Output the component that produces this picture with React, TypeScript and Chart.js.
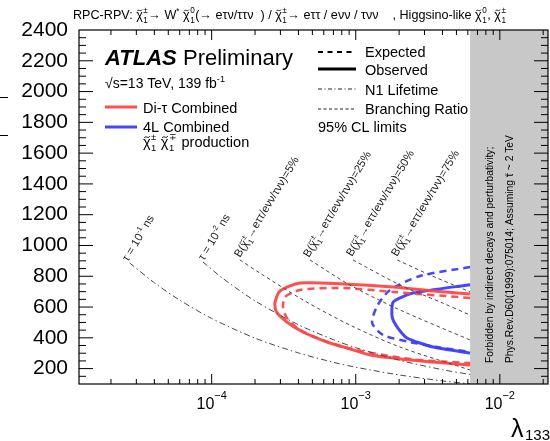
import React, { useEffect, useRef } from "react";
import { Chart, registerables } from "chart.js";

Chart.register(...registerables);

const FAM = '"Liberation Sans", Arial, Helvetica, sans-serif';

// ---- axes ----
const X_MIN = 1.2e-5;
const X_MAX = 2.16e-2;
const Y_MIN = 100;
const Y_MAX = 2400;
const FORBIDDEN_FROM = 6.22e-3;

const xTickValues = [1e-4, 1e-3, 1e-2];
const xTickExponents = ["−4", "−3", "−2"];
const yTickValues = [200, 400, 600, 800, 1000, 1200, 1400, 1600, 1800, 2000, 2200, 2400];
const yTickLabels = ["200", "400", "600", "800", "1000", "1200", "1400", "1600", "1800", "2000", "2200", "2400"];

// ---- N1 lifetime contours ----
const tau1Lambda = [2.7e-5, 4e-5, 6e-5, 1e-4, 2e-4, 4e-4, 7e-4, 1e-3, 2e-3, 4e-3, 6.22e-3];
const tau1Mass = [886, 758, 645, 526, 398, 302, 241, 209, 159, 120, 101];
const tau2Lambda = [8.7e-5, 1.2e-4, 2e-4, 4e-4, 7e-4, 1e-3, 2e-3, 4e-3, 6.22e-3];
const tau2Mass = [893, 785, 640, 485, 388, 336, 255, 193, 162];

// ---- branching ratio contours ----
const br5Lambda = [1.57e-4, 2.16e-4, 4.31e-4, 9.12e-4, 2.03e-3, 6.22e-3];
const br5Mass = [906, 821, 646, 483, 340, 191];
const br25Lambda = [4.81e-4, 9.12e-4, 2.03e-3, 6.22e-3];
const br25Mass = [906, 743, 581, 386];
const br50Lambda = [9.57e-4, 2.03e-3, 3.85e-3, 6.22e-3];
const br50Mass = [906, 743, 633, 548];
const br75Lambda = [1.94e-3, 3.28e-3, 6.22e-3];
const br75Mass = [906, 808, 698];

// ---- Di-tau combined ----
const redObsLambda = [6.22e-3, 3.44e-3, 1.82e-3, 8.16e-4, 4.1e-4, 2.98e-4, 2.75e-4, 2.82e-4, 3.33e-4, 4.31e-4, 6.32e-4, 8.7e-4, 1.26e-3, 2.38e-3, 6.22e-3];
const redObsMass = [685, 704, 730, 750, 756, 704, 626, 568, 503, 438, 373, 334, 288, 256, 223];
const redExpLambda = [6.22e-3, 1.82e-3, 8.16e-4, 4.1e-4, 3.23e-4, 3.13e-4, 3.33e-4, 3.91e-4, 4.82e-4, 8.16e-4, 2.38e-3, 6.22e-3];
const redExpMass = [659, 698, 724, 711, 665, 594, 529, 464, 418, 340, 262, 236];

// ---- 4L combined ----
const blueObsLambda = [6.22e-3, 2.5e-3, 1.82e-3, 1.79e-3, 1.94e-3, 2.27e-3, 3.44e-3, 6.22e-3];
const blueObsMass = [745, 691, 633, 535, 470, 399, 340, 301];
const blueExpLambda = [6.22e-3, 2.8e-3, 1.73e-3, 1.41e-3, 1.3e-3, 1.55e-3, 2.38e-3, 3.67e-3, 6.22e-3];
const blueExpMass = [860, 802, 711, 607, 496, 418, 373, 340, 308];

const RED = "rgba(255,70,70,0.95)";
const BLUE = "rgba(60,60,255,0.95)";
const GREY = "#4a4a4a";
const DASHDOT = [6, 3, 1.5, 3];
const BRDASH = [3.5, 3];

type Seg = { t: string; k: "n" | "sup" | "chi" | "til"; sup?: string; sub?: string };
const N = (t: string): Seg => ({ t, k: "n" });
const SUP = (t: string): Seg => ({ t, k: "sup" });
const CHI = (sup: string, sub: string): Seg => ({ t: "χ", k: "chi", sup, sub });
const TIL = (t: string): Seg => ({ t, k: "til" });

function drawTilde(ctx: CanvasRenderingContext2D, cx: number, ty: number, w: number, lw: number) {
  const h = w * 0.16;
  ctx.save();
  ctx.lineWidth = lw;
  ctx.setLineDash([]);
  ctx.beginPath();
  ctx.moveTo(cx - w / 2, ty + h);
  ctx.bezierCurveTo(cx - w / 6, ty - 2.2 * h, cx + w / 6, ty + 2.2 * h, cx + w / 2, ty - h);
  ctx.stroke();
  ctx.restore();
}

function rich(ctx: CanvasRenderingContext2D, x0: number, y: number, segs: Seg[], size: number, color = "#000") {
  let x = x0;
  ctx.fillStyle = color;
  ctx.strokeStyle = color;
  ctx.textAlign = "left";
  ctx.textBaseline = "alphabetic";
  const small = size * 0.65;
  for (const s of segs) {
    if (s.k === "n") {
      ctx.font = `${size}px ${FAM}`;
      ctx.fillText(s.t, x, y);
      x += ctx.measureText(s.t).width;
    } else if (s.k === "sup") {
      ctx.font = `${small}px ${FAM}`;
      ctx.fillText(s.t, x, y - size * 0.42);
      x += ctx.measureText(s.t).width;
    } else {
      ctx.font = `${size}px ${FAM}`;
      const w = ctx.measureText(s.t).width;
      ctx.fillText(s.t, x, y);
      drawTilde(ctx, x + w * 0.52, y - size * 0.68, w * 0.75, Math.max(0.7, size / 15));
      let adv = w;
      if (s.sup || s.sub) {
        ctx.font = `${small}px ${FAM}`;
        let ww = 0;
        if (s.sup) {
          ctx.fillText(s.sup, x + w + 0.5, y - size * 0.45);
          ww = Math.max(ww, ctx.measureText(s.sup).width);
        }
        if (s.sub) {
          ctx.fillText(s.sub, x + w + 0.5, y + size * 0.3);
          ww = Math.max(ww, ctx.measureText(s.sub).width);
        }
        adv += ww + 1;
      }
      x += adv;
    }
  }
  return x - x0;
}

function rotRich(ctx: CanvasRenderingContext2D, x: number, y: number, deg: number, segs: Seg[], size: number, color = "#000") {
  ctx.save();
  ctx.translate(x, y);
  ctx.rotate((deg * Math.PI) / 180);
  rich(ctx, 0, 0, segs, size, color);
  ctx.restore();
}

function seg(ctx: CanvasRenderingContext2D, x1: number, y1: number, x2: number, y2: number, color: string, lw: number, dash: number[] = []) {
  ctx.save();
  ctx.strokeStyle = color;
  ctx.lineWidth = lw;
  ctx.setLineDash(dash);
  ctx.beginPath();
  ctx.moveTo(x1, y1);
  ctx.lineTo(x2, y2);
  ctx.stroke();
  ctx.restore();
}

const decoPlugin = {
  id: "deco",
  beforeDatasetsDraw(chart: any) {
    const { ctx, chartArea: a, scales } = chart;
    const gx = scales.x.getPixelForValue(FORBIDDEN_FROM);
    ctx.save();
    ctx.fillStyle = "#c8c8c8";
    ctx.fillRect(gx, a.top, a.right - gx, a.bottom - a.top);
    ctx.restore();
  },
  afterDraw(chart: any) {
    const { ctx, chartArea: a, scales } = chart;
    const xs = scales.x;
    const ys = scales.y;

    // frame
    ctx.save();
    ctx.strokeStyle = "#000";
    ctx.lineWidth = 1.2;
    ctx.setLineDash([]);
    ctx.strokeRect(a.left, a.top, a.right - a.left, a.bottom - a.top);
    ctx.restore();

    // x ticks (inward, bottom and top)
    for (let e = -5; e <= -2; e++) {
      for (let k = 1; k <= 9; k++) {
        const v = k * Math.pow(10, e);
        if (v <= X_MIN || v >= X_MAX) continue;
        const px = xs.getPixelForValue(v);
        const len = k === 1 ? 10 : 5;
        seg(ctx, px, a.bottom, px, a.bottom - len, "#000", 1);
        seg(ctx, px, a.top, px, a.top + len, "#000", 1);
      }
    }
    // y ticks (inward, left and right)
    for (let v = 150; v < Y_MAX; v += 50) {
      const py = ys.getPixelForValue(v);
      const len = v % 200 === 0 ? 14 : 7;
      seg(ctx, a.left, py, a.left + len, py, "#000", 1);
      seg(ctx, a.right, py, a.right - len, py, "#000", 1);
    }

    // x tick labels with superscripts
    ctx.fillStyle = "#000";
    xTickValues.forEach((v, i) => {
      const px = xs.getPixelForValue(v);
      ctx.font = `16px ${FAM}`;
      const w1 = ctx.measureText("10").width;
      ctx.font = `11px ${FAM}`;
      const w2 = ctx.measureText(xTickExponents[i]).width;
      const start = px - (w1 + w2) / 2;
      ctx.font = `16px ${FAM}`;
      ctx.textAlign = "left";
      ctx.textBaseline = "alphabetic";
      ctx.fillText("10", start, 409);
      ctx.font = `11px ${FAM}`;
      ctx.fillText(xTickExponents[i], start + w1, 399);
    });

    // x-axis title
    ctx.font = `25px ${FAM}`;
    ctx.fillText("λ", 511, 437);
    ctx.font = `15px ${FAM}`;
    ctx.fillText("133", 525, 440);

    // remnants of the y-axis title at the left edge
    seg(ctx, 0, 97.5, 8, 97.5, "#000", 1);
    seg(ctx, 0, 135.5, 8, 135.5, "#000", 1);

    // title
    rich(ctx, 73, 19, [
      N("RPC-RPV: "), CHI("±", "1"), N("→ W"), SUP("*"), N(" "), CHI("0", "1"),
      N("(→ eτν/ττν  ) / "), CHI("±", "1"), N("→ eττ / eνν / τνν    , Higgsino-like "),
      CHI("0", "1"), N(", "), CHI("±", "1"),
    ], 12.6);

    // ATLAS label
    ctx.fillStyle = "#000";
    ctx.textAlign = "left";
    ctx.textBaseline = "alphabetic";
    ctx.font = `italic bold 22px ${FAM}`;
    ctx.fillText("ATLAS", 105, 65);
    ctx.font = `22px ${FAM}`;
    ctx.fillText("Preliminary", 183, 65);
    rich(ctx, 105, 88, [N("√s=13 TeV, 139 fb"), SUP("-1")], 14);

    // left legend
    seg(ctx, 105, 107, 137, 107, RED, 3);
    rich(ctx, 143, 113, [N("Di-τ Combined")], 14.5);
    seg(ctx, 105, 127, 137, 127, BLUE, 3);
    rich(ctx, 143, 132, [N("4L Combined")], 14.5);
    rich(ctx, 143, 147, [CHI("±", "1"), N(" "), CHI("∓", "1"), N(" production")], 14.5);

    // right legend
    seg(ctx, 318, 52, 356, 52, "#000", 2, [5, 4.5]);
    rich(ctx, 365, 57, [N("Expected")], 14.5);
    seg(ctx, 318, 69, 356, 69, "#000", 3);
    rich(ctx, 365, 75, [N("Observed")], 14.5);
    seg(ctx, 318, 89, 356, 89, "#222", 1, [4, 2.5, 1, 2.5]);
    rich(ctx, 365, 95, [N("N1 Lifetime")], 14.5);
    seg(ctx, 318, 109, 356, 109, "#222", 1, [3, 2.5]);
    rich(ctx, 365, 114, [N("Branching Ratio")], 14.5);
    rich(ctx, 318, 132, [N("95% CL limits")], 14.5);

    // contour labels
    const ang = -59;
    rotRich(ctx, 128, 262, ang, [N("τ = 10"), SUP("-1"), N(" ns")], 11.3, "#222");
    rotRich(ctx, 204, 261, ang, [N("τ = 10"), SUP("-2"), N(" ns")], 11.3, "#222");
    const brSegs = (p: string) => [N("B("), CHI("±", "1"), N("→eττ/eνν/τνν)=" + p)];
    rotRich(ctx, 240, 258, ang, brSegs("5%"), 11.3, "#222");
    rotRich(ctx, 309, 258, ang, brSegs("25%"), 11.3, "#222");
    rotRich(ctx, 352, 257, ang, brSegs("50%"), 11.3, "#222");
    rotRich(ctx, 397, 257, ang, brSegs("75%"), 11.3, "#222");

    // forbidden region text
    rotRich(ctx, 493, 363, -90, [N("Forbidden by indirect decays and perturbativity;")], 10.3);
    rotRich(ctx, 513, 363, -90, [N("Phys.Rev.D60(1999):075014; Assuming "), TIL("τ"), N(" ~ 2 TeV")], 10.3);
  },
};

function curve(xsArr: number[], ysArr: number[], color: string, width: number, dash: number[], tension = 0.3) {
  return {
    data: xsArr.map((x, i) => ({ x, y: ysArr[i] })),
    borderColor: color,
    backgroundColor: color,
    borderWidth: width,
    borderDash: dash,
    pointRadius: 0,
    showLine: true,
    fill: false,
    tension,
  };
}

export default function App() {
  const ref = useRef<HTMLCanvasElement | null>(null);
  useEffect(() => {
    if (!ref.current) return;
    const chart = new Chart(ref.current, {
      type: "scatter",
      data: {
        datasets: [
          curve(tau1Lambda, tau1Mass, GREY, 1, DASHDOT),
          curve(tau2Lambda, tau2Mass, GREY, 1, DASHDOT),
          curve(br5Lambda, br5Mass, GREY, 1, BRDASH),
          curve(br25Lambda, br25Mass, GREY, 1, BRDASH),
          curve(br50Lambda, br50Mass, GREY, 1, BRDASH),
          curve(br75Lambda, br75Mass, GREY, 1, BRDASH),
          curve(redExpLambda, redExpMass, RED, 2.5, [7, 5], 0.25),
          curve(redObsLambda, redObsMass, RED, 3, [], 0.25),
          curve(blueExpLambda, blueExpMass, BLUE, 2.5, [7, 5], 0.25),
          curve(blueObsLambda, blueObsMass, BLUE, 3, [], 0.2),
        ] as any,
      },
      options: {
        animation: false,
        responsive: false,
        maintainAspectRatio: false,
        events: [],
        layout: { padding: { left: 0, right: 2, top: 30, bottom: 0 } },
        plugins: {
          legend: { display: false },
          title: { display: false },
          tooltip: { enabled: false },
        },
        scales: {
          x: {
            type: "logarithmic",
            min: X_MIN,
            max: X_MAX,
            grid: { display: false, drawTicks: false },
            border: { display: false },
            ticks: { display: false },
            afterBuildTicks: (s: any) => {
              s.ticks = xTickValues.map((v) => ({ value: v }));
            },
            afterFit: (s: any) => {
              s.height = 57;
            },
          },
          y: {
            type: "linear",
            min: Y_MIN,
            max: Y_MAX,
            grid: { display: false, drawTicks: false },
            border: { display: false },
            ticks: {
              color: "#000",
              font: { family: FAM, size: 21 },
              padding: 11,
              autoSkip: false,
              callback: (v: any) => {
                const i = yTickValues.indexOf(Number(v));
                return i >= 0 ? yTickLabels[i] : "";
              },
            },
            afterBuildTicks: (s: any) => {
              s.ticks = yTickValues.map((v) => ({ value: v }));
            },
            afterFit: (s: any) => {
              s.width = 79;
            },
          },
        } as any,
      },
      plugins: [decoPlugin],
    });
    return () => chart.destroy();
  }, []);
  return (
    <div style={{ position: "absolute", left: 0, top: 0, width: 550, height: 441, background: "#fff" }}>
      <canvas ref={ref} width={550} height={441} style={{ display: "block" }} />
    </div>
  );
}
